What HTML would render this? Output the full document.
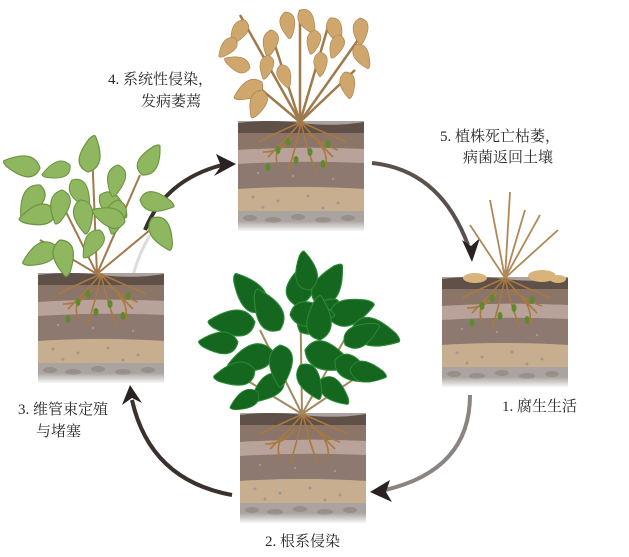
<!DOCTYPE html>
<html><head><meta charset="utf-8"><style>
html,body{margin:0;padding:0;background:#fff}
svg{display:block}
text{font-family:"Liberation Serif","Noto Serif CJK SC",serif;font-size:15px;fill:#2a2a2a}
</style></head><body>
<svg width="629" height="557" viewBox="0 0 629 557" xmlns="http://www.w3.org/2000/svg">
<defs>
<linearGradient id="fade" x1="0" y1="0" x2="0" y2="1">
<stop offset="0.9" stop-color="#fff" stop-opacity="0"/><stop offset="1" stop-color="#fff" stop-opacity="1"/>
</linearGradient>
<path id="lf" d="M0 0 Q3 -13 22 -3 Q26 0 24 1 Q6 12 0 0Z"/>
<g id="soil">
<rect x="0" y="0" width="126" height="110" fill="#aaa39f"/>
<path d="M0 2 Q30 -2 63 2 T126 1 V12 H0Z" fill="#5f5048"/>
<path d="M0 12 H126 V28 Q63 25 0 29Z" fill="#8a7568"/>
<path d="M0 29 Q63 25 126 28 V42 Q63 39 0 43Z" fill="#b8a299"/>
<path d="M0 43 Q63 39 126 42 V68 Q63 64 0 68Z" fill="#8d796f"/>
<path d="M0 68 Q63 64 126 68 V90 H0Z" fill="#c6ae8e"/>
<g fill="#a09890"><circle cx="15" cy="76" r="1.5"/><circle cx="40" cy="80" r="1.5"/><circle cx="70" cy="75" r="1.5"/><circle cx="100" cy="82" r="1.5"/><circle cx="25" cy="86" r="1.5"/><circle cx="85" cy="87" r="1.5"/><circle cx="55" cy="55" r="1.2"/><circle cx="20" cy="52" r="1.2"/><circle cx="95" cy="58" r="1.2"/></g>
<g fill="#979089"><ellipse cx="12" cy="97" rx="7" ry="3"/><ellipse cx="35" cy="99" rx="8" ry="3"/><ellipse cx="60" cy="96" rx="7" ry="3"/><ellipse cx="85" cy="99" rx="8" ry="3"/><ellipse cx="110" cy="97" rx="7" ry="3"/></g>
<rect x="0" y="0" width="126" height="111" fill="url(#fade)"/>
</g>
<g id="roots" stroke="#a9793f" stroke-width="1.6" fill="none">
<path d="M63 0 Q50 15 30 35 M63 0 Q75 15 95 35 M63 0 Q58 25 50 50 M63 0 Q68 25 78 50 M63 0 Q40 10 20 20 M63 0 Q85 10 108 20 M45 20 Q35 30 40 45 M80 20 Q90 30 88 45 M55 15 Q45 30 25 30 M70 12 Q90 25 100 28"/>
</g>
<g id="spores" fill="#5e8a2e"><ellipse cx="40" cy="28" rx="2.5" ry="4"/><ellipse cx="58" cy="38" rx="2.5" ry="4"/><ellipse cx="72" cy="30" rx="2.5" ry="4"/><ellipse cx="85" cy="42" rx="2.5" ry="4"/><ellipse cx="30" cy="45" rx="2.5" ry="4"/><ellipse cx="50" cy="20" rx="2.5" ry="4"/><ellipse cx="90" cy="22" rx="2.5" ry="4"/></g>
</defs>

<!-- arrows -->
<path d="M145 230 Q165 180 222 165" stroke="#3a302c" stroke-width="4" fill="none"/>
<path d="M150 235 Q135 260 130 290" stroke="#ddd" stroke-width="3" fill="none"/>
<polygon points="236,164 216,154 221,166 214,176" fill="#2a2220"/>
<path d="M372 163 Q440 170 468 245" stroke="#5a504c" stroke-width="4" fill="none"/>
<polygon points="472,262 462,240 471,246 480,238" fill="#2a2220"/>
<path d="M470 395 Q470 470 385 490" stroke="#8c8480" stroke-width="4" fill="none"/>
<polygon points="370,492 390,480 386,492 392,502" fill="#2a2220"/>
<path d="M232 495 Q150 480 132 400" stroke="#3a302c" stroke-width="4" fill="none"/>
<polygon points="130,385 122,405 132,398 142,403" fill="#2a2220"/>

<!-- soil blocks -->
<use href="#soil" x="238" y="121"/>
<use href="#soil" x="38" y="273"/>
<use href="#soil" x="442" y="277"/>
<use href="#soil" x="240" y="413"/>
<use href="#roots" x="238" y="122"/><use href="#spores" x="238" y="122"/>
<use href="#roots" x="38" y="274"/><use href="#spores" x="38" y="274"/>
<use href="#roots" x="442" y="278"/><use href="#spores" x="442" y="278"/>
<use href="#roots" x="240" y="414"/>

<!-- top wilted plant -->
<g stroke="#a07a4c" stroke-width="2.5" fill="none">
<path d="M300 122 L270 30 M300 122 L240 15 M300 122 L300 10 M300 122 L330 20 M300 122 L365 30 M300 122 L250 80 M300 122 L355 70"/>
</g>
<g fill="#cfa76c" stroke="#a88450" stroke-width="0.6">
<use href="#lf" transform="translate(262,82) rotate(150) scale(1.3)"/>
<use href="#lf" transform="translate(262,90) rotate(110) scale(1.2)"/>
<use href="#lf" transform="translate(250,68) rotate(200) scale(1.1)"/>
<use href="#lf" transform="translate(272,30) rotate(100) scale(1.1)"/>
<use href="#lf" transform="translate(245,20) rotate(120) scale(1.1)"/>
<use href="#lf" transform="translate(285,12) rotate(80) scale(1.1)"/>
<use href="#lf" transform="translate(300,10) rotate(60) scale(1.1)"/>
<use href="#lf" transform="translate(330,18) rotate(70) scale(1.1)"/>
<use href="#lf" transform="translate(360,18) rotate(90) scale(1.1)"/>
<use href="#lf" transform="translate(355,45) rotate(60) scale(1.1)"/>
<use href="#lf" transform="translate(345,72) rotate(80) scale(1.1)"/>
<use href="#lf" transform="translate(320,52) rotate(90) scale(1)"/>
<use href="#lf" transform="translate(268,55) rotate(100) scale(1)"/>
<use href="#lf" transform="translate(235,38) rotate(130) scale(1)"/>
<use href="#lf" transform="translate(315,30) rotate(100) scale(1)"/>
<use href="#lf" transform="translate(340,35) rotate(110) scale(1)"/>
<use href="#lf" transform="translate(280,65) rotate(70) scale(1)"/>
</g>

<!-- left green plant -->
<g stroke="#a07a4c" stroke-width="2" fill="none">
<path d="M97 274 L92 150 M97 274 L60 200 M97 274 L140 175 M97 274 L40 240 M97 274 L125 210 M97 274 L150 230"/>
</g>
<g fill="#8fb760" stroke="#6b9440" stroke-width="0.8">
<use href="#lf" transform="translate(88,172) rotate(-80) scale(1.5)"/>
<use href="#lf" transform="translate(40,168) rotate(190) scale(1.5)"/>
<use href="#lf" transform="translate(40,185) rotate(120) scale(1.5)"/>
<use href="#lf" transform="translate(55,210) rotate(165) scale(1.5)"/>
<use href="#lf" transform="translate(62,190) rotate(100) scale(1.4)"/>
<use href="#lf" transform="translate(72,180) rotate(60) scale(1.3)"/>
<use href="#lf" transform="translate(80,200) rotate(80) scale(1.4)"/>
<use href="#lf" transform="translate(100,195) rotate(40) scale(1.4)"/>
<use href="#lf" transform="translate(118,200) rotate(100) scale(1.4)"/>
<use href="#lf" transform="translate(142,175) rotate(-60) scale(1.4)"/>
<use href="#lf" transform="translate(140,200) rotate(10) scale(1.4)"/>
<use href="#lf" transform="translate(152,218) rotate(60) scale(1.5)"/>
<use href="#lf" transform="translate(55,245) rotate(150) scale(1.5)"/>
<use href="#lf" transform="translate(60,240) rotate(80) scale(1.5)"/>
<use href="#lf" transform="translate(125,222) rotate(200) scale(1.4)"/>
<use href="#lf" transform="translate(100,230) rotate(120) scale(1.3)"/>
<use href="#lf" transform="translate(118,165) rotate(100) scale(1.3)"/>
<use href="#lf" transform="translate(70,165) rotate(160) scale(1.2)"/>
</g>

<!-- right dead plant -->
<g stroke="#b08856" stroke-width="1.8" fill="none">
<path d="M505 278 L490 200 M505 278 L510 192 M505 278 L525 210 M505 278 L540 215 M505 278 L470 225 M505 278 L558 230"/>
</g>
<g fill="#d8b47a"><ellipse cx="475" cy="278" rx="12" ry="5"/><ellipse cx="542" cy="276" rx="14" ry="6"/><ellipse cx="558" cy="279" rx="8" ry="4"/></g>

<!-- bottom dark green plant -->
<g stroke="#a08a60" stroke-width="2" fill="none">
<path d="M302 414 L300 280 M302 414 L260 330 M302 414 L350 330 M302 414 L230 370 M302 414 L375 365"/>
</g>
<g fill="#15661f" stroke="#2c8a36" stroke-width="0.6">
<use href="#lf" transform="translate(295,305) rotate(-70) scale(1.9)"/>
<use href="#lf" transform="translate(318,305) rotate(-60) scale(1.9)"/>
<use href="#lf" transform="translate(265,310) rotate(-130) scale(1.9)"/>
<use href="#lf" transform="translate(255,322) rotate(180) scale(1.9)"/>
<use href="#lf" transform="translate(280,330) rotate(-120) scale(1.9)"/>
<use href="#lf" transform="translate(300,332) rotate(-40) scale(2)"/>
<use href="#lf" transform="translate(330,320) rotate(-20) scale(1.9)"/>
<use href="#lf" transform="translate(352,328) rotate(15) scale(2)"/>
<use href="#lf" transform="translate(238,342) rotate(180) scale(1.6)"/>
<use href="#lf" transform="translate(272,350) rotate(160) scale(1.9)"/>
<use href="#lf" transform="translate(305,350) rotate(20) scale(2)"/>
<use href="#lf" transform="translate(335,360) rotate(30) scale(1.7)"/>
<use href="#lf" transform="translate(255,370) rotate(170) scale(1.7)"/>
<use href="#lf" transform="translate(282,375) rotate(140) scale(1.6)"/>
<use href="#lf" transform="translate(320,380) rotate(40) scale(1.5)"/>
<use href="#lf" transform="translate(350,370) rotate(10) scale(1.5)"/>
<use href="#lf" transform="translate(258,392) rotate(150) scale(1.3)"/>
<use href="#lf" transform="translate(290,315) rotate(0) scale(1.8)"/>
<use href="#lf" transform="translate(320,340) rotate(-90) scale(1.8)"/>
<use href="#lf" transform="translate(280,345) rotate(90) scale(1.7)"/>
<use href="#lf" transform="translate(310,290) rotate(-100) scale(1.6)"/>
<use href="#lf" transform="translate(300,365) rotate(60) scale(1.6)"/>
<use href="#lf" transform="translate(345,345) rotate(-30) scale(1.6)"/>
</g>

<!-- labels -->
<text x="108" y="84">4. 系统性侵染，</text>
<text x="141" y="106">发病萎蔫</text>
<text x="440" y="141">5. 植株死亡枯萎，</text>
<text x="463" y="162">病菌返回土壤</text>
<text x="18" y="414">3. 维管束定殖</text>
<text x="36" y="436">与堵塞</text>
<text x="502" y="411">1. 腐生生活</text>
<text x="265" y="546">2. 根系侵染</text>
</svg>
</body></html>
